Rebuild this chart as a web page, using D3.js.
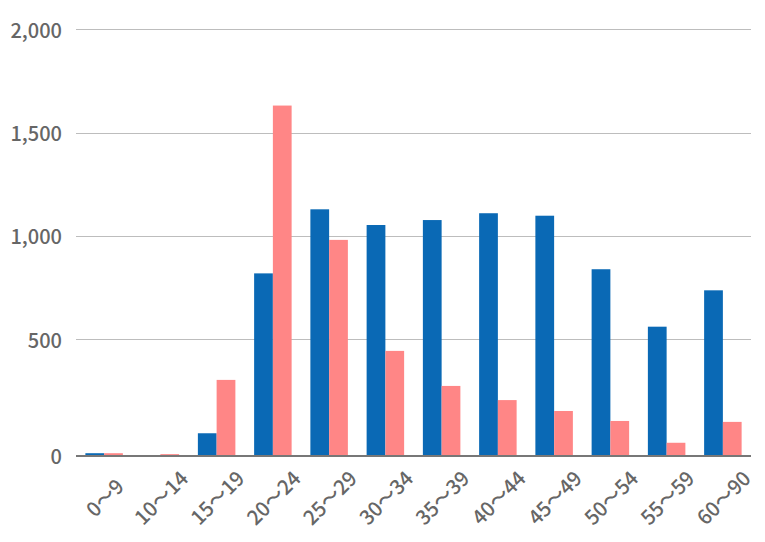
<!DOCTYPE html>
<html>
<head>
<meta charset="utf-8">
<script src="https://cdn.jsdelivr.net/npm/d3@7"></script>
<style>
  html, body { margin: 0; padding: 0; background: #fff; }
  svg { display: block; }
  text { font-family: "Noto Sans CJK JP", "Noto Sans", sans-serif; fill: #666; }
</style>
</head>
<body>
<svg id="chart" width="765" height="542"></svg>
<script>
const categories = ["0〜9","10〜14","15〜19","20〜24","25〜29","30〜34","35〜39","40〜44","45〜49","50〜54","55〜59","60〜90"];
const seriesBlue = [9, 0, 95, 819, 1129, 1053, 1077, 1110, 1098, 839, 561, 737];
const seriesPink = [9, 5, 325, 1631, 981, 450, 299, 238, 191, 148, 54, 144];
const yTicks = [0, 500, 1000, 1500, 2000];

const plotLeft = 76, plotRight = 751, plotTop = 29.3, plotBase = 455.3, lowGrid = 339.3;

const svg = d3.select("#chart");

const x = d3.scaleBand().domain(categories).range([plotLeft, plotRight]).paddingInner(1/3).paddingOuter(1/6);
const xs = d3.scaleBand().domain(["blue","pink"]).range([0, x.bandwidth()]);
const y = d3.scaleLinear().domain([0, 500, 2000]).range([plotBase, lowGrid, plotTop]);

// gridlines
svg.append("g").selectAll("line").data(yTicks.filter(d => d > 0)).join("line")
  .attr("x1", plotLeft).attr("x2", plotRight)
  .attr("y1", d => Math.round(y(d)) + 0.5).attr("y2", d => Math.round(y(d)) + 0.5)
  .attr("stroke", "#bdbdbd").attr("stroke-width", 1);

// y labels
svg.append("g").selectAll("text").data(yTicks).join("text")
  .attr("x", 62).attr("y", d => y(d))
  .attr("text-anchor", "end").attr("dominant-baseline", "central")
  .attr("font-size", 20).attr("font-weight", 500)
  .text(d => d3.format(",")(d));

// bars
const groups = svg.append("g").selectAll("g").data(categories).join("g")
  .attr("transform", d => `translate(${x(d)},0)`);

groups.append("rect")
  .attr("x", xs("blue")).attr("width", xs.bandwidth())
  .attr("y", (d, i) => y(seriesBlue[i])).attr("height", (d, i) => plotBase - y(seriesBlue[i]))
  .attr("fill", "#0a69b5");
groups.append("rect")
  .attr("x", xs("pink")).attr("width", xs.bandwidth())
  .attr("y", (d, i) => y(seriesPink[i])).attr("height", (d, i) => plotBase - y(seriesPink[i]))
  .attr("fill", "#ff8686");

// baseline
svg.append("line").attr("x1", plotLeft).attr("x2", plotRight)
  .attr("y1", plotBase + 0.7).attr("y2", plotBase + 0.7)
  .attr("stroke", "#777").attr("stroke-width", 2);

// x labels
svg.append("g").selectAll("text").data(categories).join("text")
  .attr("transform", d => `translate(${x(d) + x.bandwidth()/2},${497}) rotate(-45)`)
  .attr("text-anchor", "middle").attr("dominant-baseline", "central")
  .attr("font-size", 20).attr("font-weight", 500)
  .text(d => d);
</script>
</body>
</html>
